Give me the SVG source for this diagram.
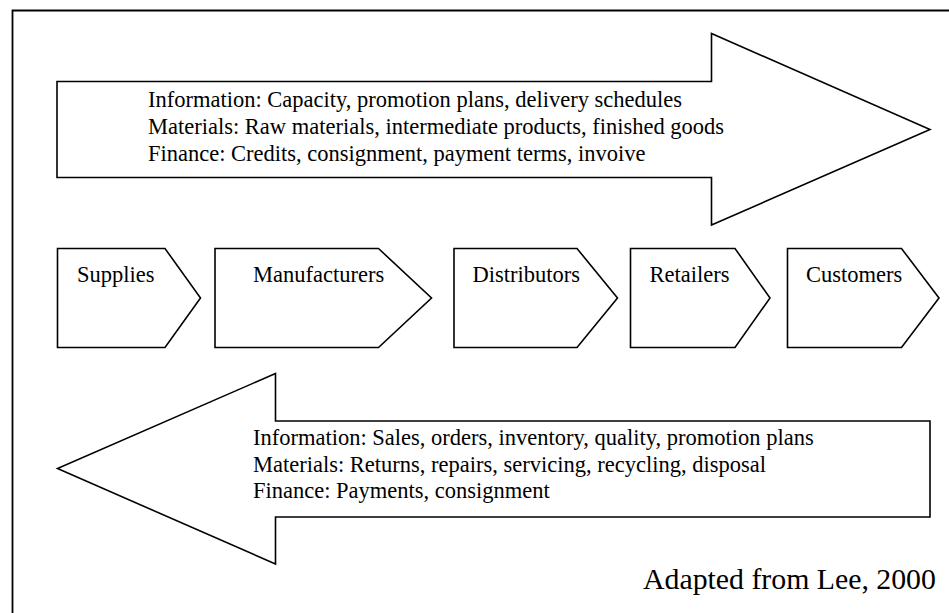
<svg xmlns="http://www.w3.org/2000/svg" width="949" height="613" viewBox="0 0 949 613">
  <style>
    .shape { fill: #ffffff; stroke: #000000; stroke-width: 1.6; stroke-linejoin: miter; }
    .frame { fill: none; stroke: #000000; stroke-width: 1.8; }
    .txt { font-family: "Liberation Serif", "Times New Roman", serif; font-size: 22.5px; fill: #000000; }
    .credit { font-family: "Liberation Serif", "Times New Roman", serif; font-size: 29.8px; fill: #000000; }
  </style>
  <rect x="0" y="0" width="949" height="613" fill="#ffffff"/>
  <!-- outer frame: only top and left edges fall inside the page -->
  <polyline class="frame" points="12.5,613 12.5,10.5 949,10.5"/>

  <!-- upstream-to-downstream flows -->
  <g id="forward-flow">
    <polygon class="shape" points="57,81.5 711.5,81.5 711.5,33.5 930,129.5 711.5,225 711.5,177.5 57,177.5"/>
    <text class="txt" x="148" y="107">Information: Capacity, promotion plans, delivery schedules</text>
    <text class="txt" x="148" y="134">Materials: Raw materials, intermediate products, finished goods</text>
    <text class="txt" x="148" y="161">Finance: Credits, consignment, payment terms, invoive</text>
  </g>

  <!-- supply chain stages -->
  <g id="supplies">
    <polygon class="shape" points="57.5,248.5 165,248.5 200.5,298 165,347.5 57.5,347.5"/>
    <text class="txt" x="77" y="282">Supplies</text>
  </g>
  <g id="manufacturers">
    <polygon class="shape" points="215,248.5 378.5,248.5 431.5,298 378.5,347.5 215,347.5"/>
    <text class="txt" x="253" y="282">Manufacturers</text>
  </g>
  <g id="distributors">
    <polygon class="shape" points="454,248.5 577,248.5 617.5,298 577,347.5 454,347.5"/>
    <text class="txt" x="472.5" y="282">Distributors</text>
  </g>
  <g id="retailers">
    <polygon class="shape" points="630.5,248.5 735,248.5 770,298 735,347.5 630.5,347.5"/>
    <text class="txt" x="649.5" y="282">Retailers</text>
  </g>
  <g id="customers">
    <polygon class="shape" points="787.5,248.5 901.5,248.5 939,298 901.5,347.5 787.5,347.5"/>
    <text class="txt" x="806" y="282">Customers</text>
  </g>

  <!-- downstream-to-upstream flows -->
  <g id="reverse-flow">
    <polygon class="shape" points="930,421 930,517 275.5,517 275.5,564 57.5,468.5 275.5,373.5 275.5,421"/>
    <text class="txt" x="253" y="445">Information: Sales, orders, inventory, quality, promotion plans</text>
    <text class="txt" x="253" y="472">Materials: Returns, repairs, servicing, recycling, disposal</text>
    <text class="txt" x="253" y="498">Finance: Payments, consignment</text>
  </g>

  <text class="credit" x="643" y="589">Adapted from Lee, 2000</text>
</svg>
